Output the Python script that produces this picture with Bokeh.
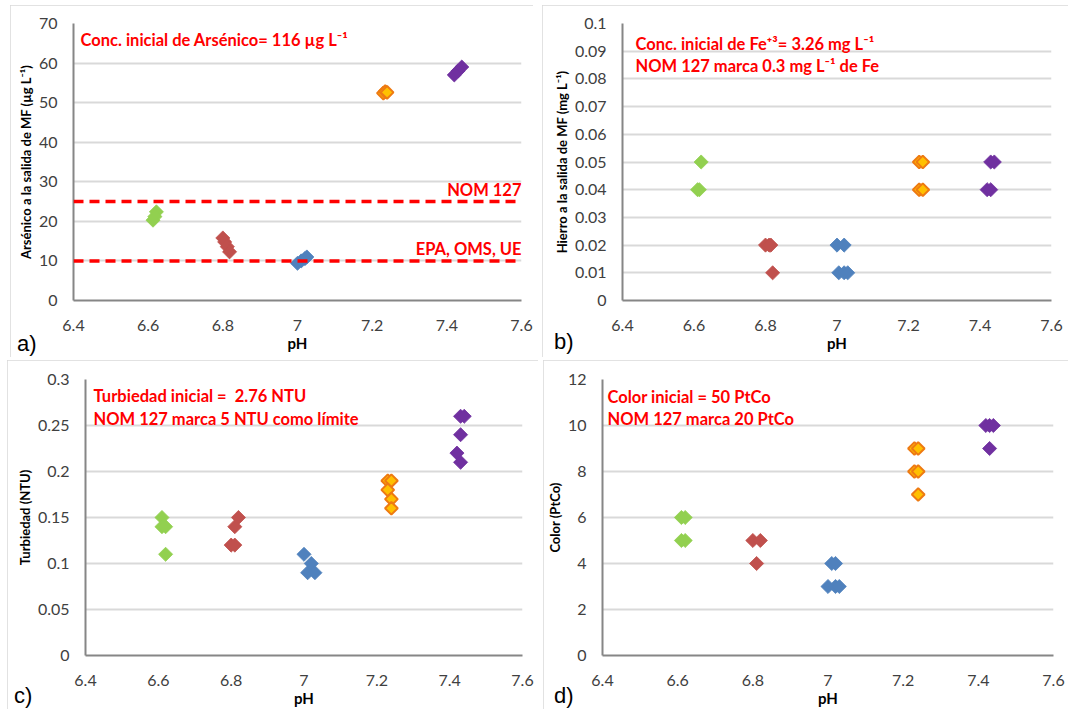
import numpy as np
from bokeh.plotting import figure
from bokeh.layouts import column, row
from bokeh.models import FixedTicker, Span, Label, ColumnDataSource, Div
from bokeh.embed import file_html
from bokeh.resources import INLINE

# ---------------- data ----------------
X_TICKS = [6.4, 6.6, 6.8, 7.0, 7.2, 7.4, 7.6]
X_TICK_LABELS = ["6.4", "6.6", "6.8", "7", "7.2", "7.4", "7.6"]
SERIES = ["6.6", "6.8", "7.0", "7.2", "7.4"]
PANEL_LETTERS = ["a)", "b)", "c)", "d)"]

# a) Arsenic
as_y_ticks = [0, 10, 20, 30, 40, 50, 60, 70]
as_y_labels = ["0", "10", "20", "30", "40", "50", "60", "70"]
as_ph = [6.622, 6.618, 6.613,
         6.800, 6.805, 6.812, 6.818,
         7.000, 7.010, 7.020, 7.025,
         7.230, 7.235, 7.240,
         7.420, 7.430, 7.440]
as_val = [22.4, 21.2, 20.3,
          15.8, 14.8, 13.6, 12.3,
          9.4, 10.0, 10.6, 11.0,
          52.4, 52.8, 52.6,
          57.0, 58.0, 59.0]
as_grp = ["6.6"] * 3 + ["6.8"] * 4 + ["7.0"] * 4 + ["7.2"] * 3 + ["7.4"] * 3
as_limits = [25, 10]
as_limit_labels = ["NOM 127", "EPA, OMS, UE"]

# b) Iron
fe_y_ticks = [0, 0.01, 0.02, 0.03, 0.04, 0.05, 0.06, 0.07, 0.08, 0.09, 0.1]
fe_y_labels = ["0", "0.01", "0.02", "0.03", "0.04", "0.05", "0.06", "0.07", "0.08", "0.09", "0.1"]
fe_ph = [6.620, 6.610, 6.615,
         6.800, 6.810, 6.815, 6.820,
         7.000, 7.020, 7.005, 7.020, 7.030,
         7.230, 7.240, 7.230, 7.240,
         7.430, 7.440, 7.420, 7.430]
fe_val = [0.05, 0.04, 0.04,
          0.02, 0.02, 0.02, 0.01,
          0.02, 0.02, 0.01, 0.01, 0.01,
          0.05, 0.05, 0.04, 0.04,
          0.05, 0.05, 0.04, 0.04]
fe_grp = ["6.6"] * 3 + ["6.8"] * 4 + ["7.0"] * 5 + ["7.2"] * 4 + ["7.4"] * 4

# c) Turbidity
tu_y_ticks = [0, 0.05, 0.1, 0.15, 0.2, 0.25, 0.3]
tu_y_labels = ["0", "0.05", "0.1", "0.15", "0.2", "0.25", "0.3"]
tu_ph = [6.610, 6.610, 6.620, 6.620,
         6.820, 6.810, 6.800, 6.810,
         7.000, 7.020, 7.010, 7.030,
         7.230, 7.240, 7.230, 7.240, 7.240,
         7.430, 7.440, 7.430, 7.420, 7.430]
tu_val = [0.15, 0.14, 0.14, 0.11,
          0.15, 0.14, 0.12, 0.12,
          0.11, 0.10, 0.09, 0.09,
          0.19, 0.19, 0.18, 0.17, 0.16,
          0.26, 0.26, 0.24, 0.22, 0.21]
tu_grp = ["6.6"] * 4 + ["6.8"] * 4 + ["7.0"] * 4 + ["7.2"] * 5 + ["7.4"] * 5

# d) Color
co_y_ticks = [0, 2, 4, 6, 8, 10, 12]
co_y_labels = ["0", "2", "4", "6", "8", "10", "12"]
co_ph = [6.610, 6.620, 6.610, 6.620,
         6.800, 6.820, 6.810,
         7.010, 7.020, 7.000, 7.020, 7.030,
         7.230, 7.240, 7.230, 7.240, 7.240,
         7.420, 7.430, 7.440, 7.430]
co_val = [6, 6, 5, 5,
          5, 5, 4,
          4, 4, 3, 3, 3,
          9, 9, 8, 8, 7,
          10, 10, 10, 9]
co_grp = ["6.6"] * 4 + ["6.8"] * 3 + ["7.0"] * 5 + ["7.2"] * 5 + ["7.4"] * 4

# ---------------- styles ----------------
FILL = {"6.6": "#92d050", "6.8": "#c0504d", "7.0": "#4f81bd", "7.2": "#ffc000", "7.4": "#7030a0"}
LINE = {"6.6": "#92d050", "6.8": "#c0504d", "7.0": "#4f81bd", "7.2": "#ee7a12", "7.4": "#7030a0"}
LW = {"6.6": 0.8, "6.8": 0.8, "7.0": 0.8, "7.2": 2.0, "7.4": 0.8}
SIZE = {"6.6": 10, "6.8": 10, "7.0": 10, "7.2": 9, "7.4": 10}

TICK_FONT = "Lato"
RED = "#ff0000"


def make_panel(w, h, bl, br, bt, bb, margin, y_ticks, y_labels, y_title,
               ph, val, grp, notes, note_dx, note_dy, note_gap):
    y_end = y_ticks[-1]
    p = figure(width=w, height=h, x_range=(6.4, 7.6), y_range=(0, y_end),
               output_backend="svg", toolbar_location=None,
               min_border_left=bl, min_border_right=br, min_border_top=bt, min_border_bottom=bb,
               margin=margin)
    p.outline_line_color = None
    p.background_fill_color = "white"
    p.border_fill_color = "white"
    p.styles = {"outline": "2px solid #d9d9d9", "outline-offset": "-2px"}

    yt = FixedTicker(ticks=y_ticks)
    p.xaxis.ticker = FixedTicker(ticks=X_TICKS)
    p.xaxis.major_label_overrides = dict(zip(X_TICKS, X_TICK_LABELS))
    p.yaxis.ticker = yt
    p.yaxis.major_label_overrides = dict(zip(y_ticks, y_labels))
    p.ygrid.ticker = yt
    p.xgrid.grid_line_color = None
    p.ygrid.grid_line_color = "#d9d9d9"
    p.ygrid.grid_line_width = 2

    for ax in (p.xaxis[0], p.yaxis[0]):
        ax.axis_line_color = "#868686"
        ax.axis_line_width = 2
        ax.major_tick_line_color = None
        ax.minor_tick_line_color = None
        ax.major_tick_out = 0
        ax.major_tick_in = 0
        ax.major_label_text_font = TICK_FONT
        ax.major_label_text_font_size = "16px"
        ax.major_label_text_color = "#404040"
        ax.axis_label_text_font = TICK_FONT
        ax.axis_label_text_font_style = "bold"
        ax.axis_label_text_color = "black"

    p.xaxis.axis_label = "pH"
    p.xaxis.axis_label_text_font_size = "15px"
    p.xaxis.major_label_standoff = 19
    p.xaxis.axis_label_standoff = 0
    p.yaxis.axis_label = y_title
    p.yaxis.axis_label_text_font_size = "13px"
    p.yaxis.major_label_standoff = 16
    p.yaxis.axis_label_standoff = 2

    src = ColumnDataSource(dict(
        x=ph, y=val,
        fill=[FILL[g] for g in grp],
        line=[LINE[g] for g in grp],
        lw=[LW[g] for g in grp],
        sz=[SIZE[g] for g in grp],
    ))
    p.scatter("x", "y", source=src, marker="square", size="sz", angle=np.pi / 4,
              fill_color="fill", line_color="line", line_width="lw")

    for i, t in enumerate(notes):
        p.add_layout(Label(x=6.4, y=y_end, x_offset=note_dx, y_offset=-(note_dy + i * note_gap),
                           text=t, text_font=TICK_FONT, text_font_style="bold",
                           text_font_size="16.5px", text_color=RED, text_baseline="middle",
                           text_align="left"))
    return p


pa = make_panel(523, 352, 63, 12, 18, 57, (5, 0, 0, 10), as_y_ticks, as_y_labels,
                "Arsénico a la salida de MF (µg L⁻¹)", as_ph, as_val, as_grp,
                ["Conc. inicial de Arsénico= 116 µg L⁻¹"], 7, 16, 22)
for lim, lab in zip(as_limits, as_limit_labels):
    pa.add_layout(Span(location=lim, dimension="width", line_color=RED, line_width=3.5,
                       line_dash="10 6"))
    pa.add_layout(Label(x=7.6, y=lim, y_offset=2, text=lab, text_font=TICK_FONT,
                        text_font_style="bold", text_font_size="16.5px", text_color=RED,
                        text_align="right", text_baseline="bottom"))

pb = make_panel(526, 352, 80, 17, 18, 54, (5, 0, 0, 9), fe_y_ticks, fe_y_labels,
                "Hierro a la salida de MF (mg L⁻¹)", fe_ph, fe_val, fe_grp,
                ["Conc. inicial de Fe⁺³= 3.26 mg L⁻¹", "NOM 127 marca 0.3 mg L⁻¹ de Fe"],
                13, 20, 22)

pc = make_panel(531, 349, 78, 16, 19, 53, (3, 0, 0, 7), tu_y_ticks, tu_y_labels,
                "Turbiedad (NTU)", tu_ph, tu_val, tu_grp,
                ["Turbiedad inicial = \u00a02.76 NTU", "NOM 127 marca 5 NTU como límite"],
                8, 16, 23)

pd_ = make_panel(525, 349, 57, 15, 18, 53, (3, 0, 0, 5), co_y_ticks, co_y_labels,
                 "Color (PtCo)", co_ph, co_val, co_grp,
                 ["Color inicial = 50 PtCo", "NOM 127 marca 20 PtCo"],
                 5, 17, 22)

letter_pos = [(12, 328), (549, 326), (9, 680), (549, 680)]
letters = []
for txt, (lx, ly) in zip(PANEL_LETTERS, letter_pos):
    letters.append(Div(text=txt, styles={
        "position": "absolute", "left": f"{lx}px", "top": f"{ly}px",
        "font-family": "Liberation Sans", "font-size": "22px", "line-height": "22px",
        "color": "black", "z-index": "10"}))

layout = column(row(pa, pb), row(pc, pd_), *letters)
open("out.html", "w").write(file_html(layout, INLINE))
